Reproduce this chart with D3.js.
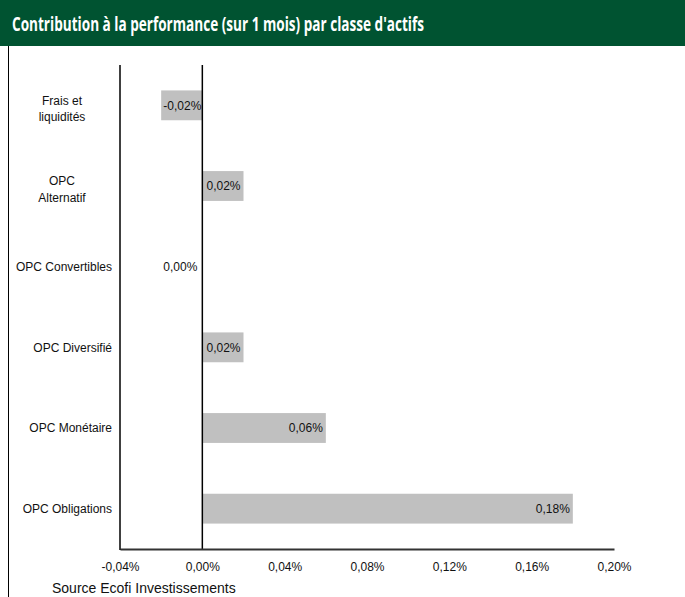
<!DOCTYPE html>
<html>
<head>
<meta charset="utf-8">
<script src="https://cdn.jsdelivr.net/npm/d3@7"></script>
<style>
  body { margin: 0; background: #fff; }
  svg { display: block; }
</style>
</head>
<body>
<script>
// Chart data
const categories = [
  ['Frais et', 'liquidités'],
  ['OPC', 'Alternatif'],
  ['OPC Convertibles'],
  ['OPC Diversifié'],
  ['OPC Monétaire'],
  ['OPC Obligations']
];
const values = [-0.02, 0.02, 0.00, 0.02, 0.06, 0.18];
const xTicks = [-0.04, 0, 0.04, 0.08, 0.12, 0.16, 0.20];
const title = "Contribution à la performance (sur 1 mois) par classe d'actifs";
const source = 'Source Ecofi Investissements';

const width = 685, height = 597;
const margin = {top: 65, right: 71, bottom: 48, left: 120};

const svg = d3.select('body').append('svg')
    .attr('width', width)
    .attr('height', height);

// green header band
svg.append('rect')
    .attr('x', 0).attr('y', 0)
    .attr('width', width).attr('height', 46)
    .style('fill', '#005331');

svg.append('text')
    .attr('x', 12).attr('y', 31)
    .attr('textLength', 412)
    .attr('lengthAdjust', 'spacingAndGlyphs')
    .style('font-family', '"Open Sans", sans-serif')
    .style('font-weight', 700)
    .style('font-size', '19px')
    .style('fill', '#fff')
    .text(title);

// left frame line
svg.append('line')
    .attr('x1', 8.5).attr('x2', 8.5)
    .attr('y1', 46).attr('y2', height)
    .style('stroke', '#000');

let x = d3.scaleLinear()
    .domain([-0.04, 0.20])
    .range([margin.left, width - margin.right]);

let y = d3.scaleBand()
    .domain(d3.range(categories.length))
    .range([margin.top, height - margin.bottom])
    .paddingInner(0.63)
    .paddingOuter(0.315);

// french style numbers with a plain hyphen for the minus
let locale = d3.formatLocale({decimal: ',', thousands: ' ', grouping: [3], currency: ['', ' €'], minus: '-'});
let fmt = (d) => locale.format('.2f')(d) + '%';

// bars
svg.selectAll('.bar')
    .data(values)
    .join('rect')
        .attr('class', 'bar')
        .attr('x', (d) => x(Math.min(d, 0)))
        .attr('y', (d, i) => y(i))
        .attr('width', (d) => Math.abs(x(d) - x(0)))
        .attr('height', y.bandwidth())
        .style('fill', '#c0c0c0');

// value labels, right aligned near the bar end
svg.selectAll('.val')
    .data(values)
    .join('text')
        .attr('class', 'val')
        .attr('x', (d) => d > 0 ? x(d) - 3 : x(0) - (d < 0 ? 1 : 5))
        .attr('y', (d, i) => y(i) + y.bandwidth() / 2)
        .attr('dy', '0.35em')
        .attr('text-anchor', 'end')
        .style('font-family', '"Liberation Sans", Arial, sans-serif')
        .style('font-size', '12px')
        .style('fill', '#111')
        .text(fmt);

// zero line
svg.append('line')
    .attr('x1', x(0)).attr('x2', x(0))
    .attr('y1', margin.top).attr('y2', height - margin.bottom)
    .style('stroke', '#000')
    .style('stroke-width', 1.5);

// x axis
let xAxis = svg.append('g')
    .attr('transform', `translate(0,${height - margin.bottom})`)
    .call(d3.axisBottom(x).tickValues(xTicks).tickSize(0).tickPadding(13).tickFormat(fmt));
xAxis.select('.domain').style('stroke', '#333').style('stroke-width', 2);
xAxis.selectAll('text')
    .style('font-family', '"Liberation Sans", Arial, sans-serif')
    .style('font-size', '12px')
    .style('fill', '#111');

// y axis line
svg.append('line')
    .attr('x1', margin.left).attr('x2', margin.left)
    .attr('y1', margin.top).attr('y2', height - margin.bottom + 1)
    .style('stroke', '#000')
    .style('stroke-width', 1.5);

// category labels; wrapped ones are centred like in the spreadsheet
let labels = svg.selectAll('.cat')
    .data(categories)
    .join('text')
        .attr('class', 'cat')
        .attr('text-anchor', (d) => d.length > 1 ? 'middle' : 'end')
        .attr('x', (d) => d.length > 1 ? 62 : margin.left - 8)
        .attr('y', (d, i) => y(i) + y.bandwidth() / 2)
        .style('font-family', '"Liberation Sans", Arial, sans-serif')
        .style('font-size', '12px')
        .style('fill', '#111');

labels.selectAll('tspan')
    .data((d) => d.map((line, j) => ({line, j, n: d.length})))
    .join('tspan')
        .attr('x', function() { return this.parentNode.getAttribute('x'); })
        .attr('dy', (d) => d.n > 1 ? (d.j == 0 ? '-0.05em' : '1.35em') : '0.35em')
        .text((d) => d.line);

svg.append('text')
    .attr('x', 52).attr('y', 593)
    .style('font-family', '"Liberation Sans", Arial, sans-serif')
    .style('font-size', '14px')
    .style('fill', '#111')
    .text(source);
</script>
</body>
</html>
